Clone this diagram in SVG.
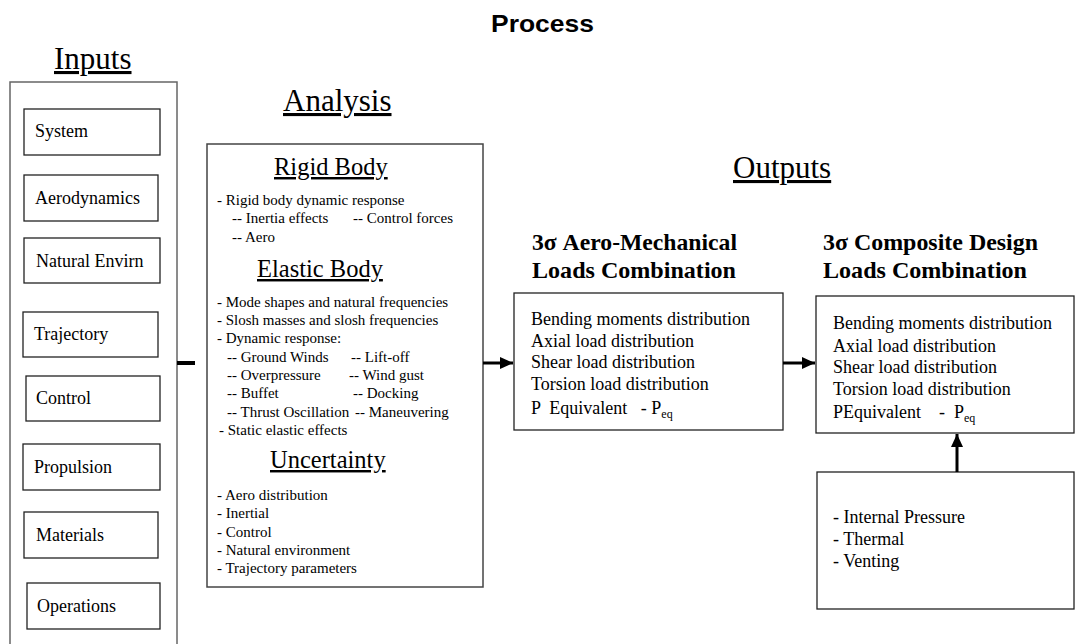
<svg xmlns="http://www.w3.org/2000/svg" width="1075" height="644" viewBox="0 0 1075 644">
<defs>
<style>
.s{font-family:"Liberation Serif","Times New Roman",serif;fill:#000}
.in{font-size:18px}
.an{font-size:15px}
.hd{font-size:24.5px;text-decoration:underline}
.tt{font-size:31px;text-decoration:underline}
.bh{font-size:23px;font-weight:bold}
.bx{font-size:18px}
.box{fill:#fff;stroke:#222;stroke-width:1.3}
.con{stroke:#000;fill:none}
</style>
<marker id="ah" markerUnits="userSpaceOnUse" markerWidth="14" markerHeight="14" viewBox="0 0 14 14" refX="13" refY="7" orient="auto">
<path d="M0,1 L13,7 L0,13 Z" fill="#000"/>
</marker>
</defs>
<rect width="1075" height="644" fill="#fff"/>

<text x="491" y="32" font-family="Liberation Sans, Arial, sans-serif" font-weight="bold" font-size="24" textLength="103" lengthAdjust="spacingAndGlyphs">Process</text>
<text class="s tt" x="54" y="69">Inputs</text>
<text class="s tt" x="283" y="111">Analysis</text>
<text class="s tt" x="733" y="178">Outputs</text>

<g id="inputs">
<rect x="10" y="82" width="167" height="600" fill="#fff" stroke="#666" stroke-width="1.5"/>
<g id="in-system"><rect class="box" x="24" y="109" width="136" height="46"/><text class="s in" x="35" y="137">System</text></g>
<g id="in-aero"><rect class="box" x="24" y="175" width="134" height="46"/><text class="s in" x="35" y="204">Aerodynamics</text></g>
<g id="in-natural"><rect class="box" x="24" y="238" width="136" height="45"/><text class="s in" x="36" y="267">Natural Envirn</text></g>
<g id="in-trajectory"><rect class="box" x="23" y="312" width="135" height="45"/><text class="s in" x="34" y="340">Trajectory</text></g>
<g id="in-control"><rect class="box" x="26" y="376" width="134" height="45"/><text class="s in" x="36" y="404">Control</text></g>
<g id="in-propulsion"><rect class="box" x="23" y="444" width="137" height="46"/><text class="s in" x="34" y="473">Propulsion</text></g>
<g id="in-materials"><rect class="box" x="24" y="512" width="134" height="46"/><text class="s in" x="36" y="541">Materials</text></g>
<g id="in-operations"><rect class="box" x="27" y="583" width="133" height="46"/><text class="s in" x="37" y="612">Operations</text></g>
</g>

<g id="analysis">
<rect x="207" y="144" width="276" height="443" fill="#fff" stroke="#444" stroke-width="1.5"/>
<text class="s hd" x="274" y="175">Rigid Body</text>
<text class="s an" x="217" y="205">- Rigid body dynamic response</text>
<text class="s an" x="232" y="223">-- Inertia effects</text>
<text class="s an" x="353" y="223">-- Control forces</text>
<text class="s an" x="232" y="242">-- Aero</text>
<text class="s hd" x="257" y="277">Elastic Body</text>
<text class="s an" x="217" y="307">- Mode shapes and natural frequencies</text>
<text class="s an" x="217" y="325">- Slosh masses and slosh frequencies</text>
<text class="s an" x="217" y="343">- Dynamic response:</text>
<text class="s an" x="227" y="362">-- Ground Winds</text>
<text class="s an" x="351" y="362">-- Lift-off</text>
<text class="s an" x="227" y="380">-- Overpressure</text>
<text class="s an" x="349" y="380">-- Wind gust</text>
<text class="s an" x="227" y="398">-- Buffet</text>
<text class="s an" x="353" y="398">-- Docking</text>
<text class="s an" x="227" y="417">-- Thrust Oscillation</text>
<text class="s an" x="355" y="417">-- Maneuvering</text>
<text class="s an" x="219" y="435">- Static elastic effects</text>
<text class="s hd" x="270" y="468">Uncertainty</text>
<text class="s an" x="217" y="500">- Aero distribution</text>
<text class="s an" x="217" y="518">- Inertial</text>
<text class="s an" x="217" y="537">- Control</text>
<text class="s an" x="217" y="555">- Natural environment</text>
<text class="s an" x="217" y="573">- Trajectory parameters</text>
</g>

<g id="aero-mech">
<text class="s bh" x="532" y="250" textLength="205" lengthAdjust="spacingAndGlyphs">3σ Aero-Mechanical</text>
<text class="s bh" x="532" y="278" textLength="204" lengthAdjust="spacingAndGlyphs">Loads Combination</text>
<rect class="box" x="514" y="293" width="269" height="137"/>
<text class="s bx" x="531" y="325">Bending moments distribution</text>
<text class="s bx" x="531" y="347">Axial load distribution</text>
<text class="s bx" x="531" y="368">Shear load distribution</text>
<text class="s bx" x="531" y="390">Torsion load distribution</text>
<text class="s bx" x="531" y="414" xml:space="preserve">P  Equivalent   - P<tspan font-size="12" dy="4">eq</tspan></text>
</g>

<g id="composite">
<text class="s bh" x="823" y="250" textLength="215" lengthAdjust="spacingAndGlyphs">3σ Composite Design</text>
<text class="s bh" x="823" y="278" textLength="204" lengthAdjust="spacingAndGlyphs">Loads Combination</text>
<rect class="box" x="816" y="296" width="258" height="137"/>
<text class="s bx" x="833" y="329">Bending moments distribution</text>
<text class="s bx" x="833" y="352">Axial load distribution</text>
<text class="s bx" x="833" y="373">Shear load distribution</text>
<text class="s bx" x="833" y="395">Torsion load distribution</text>
<text class="s bx" x="833" y="418" xml:space="preserve">PEquivalent    -  P<tspan font-size="12" dy="4">eq</tspan></text>
</g>

<g id="pressure">
<rect class="box" x="817" y="472" width="257" height="137"/>
<text class="s bx" x="833" y="523">- Internal Pressure</text>
<text class="s bx" x="833" y="545">- Thermal</text>
<text class="s bx" x="833" y="567">- Venting</text>
</g>

<g id="connectors">
<line class="con" x1="177" y1="363" x2="195" y2="363" stroke-width="4"/>
<line class="con" x1="483" y1="363" x2="513" y2="363" stroke-width="3" marker-end="url(#ah)"/>
<line class="con" x1="783" y1="363" x2="815" y2="363" stroke-width="3" marker-end="url(#ah)"/>
<line class="con" x1="957" y1="472" x2="957" y2="434" stroke-width="3" marker-end="url(#ah)"/>
</g>
</svg>
